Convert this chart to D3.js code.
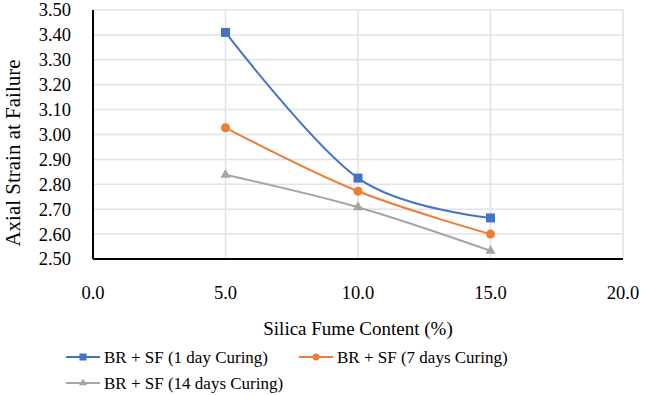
<!DOCTYPE html>
<html>
<head>
<meta charset="utf-8">
<script src="https://cdn.jsdelivr.net/npm/d3@7"></script>
</head>
<body style="margin:0">
<script>
const silicaFume = [5, 10, 15]
const oneDay = [3.41, 2.825, 2.665]
const sevenDays = [3.027, 2.772, 2.60]
const fourteenDays = [2.838, 2.708, 2.533]
const seriesNames = ['BR + SF (1 day Curing)', 'BR + SF (7 days Curing)', 'BR + SF (14 days Curing)']
const xTicks = [0, 5, 10, 15, 20]
const yTicks = [2.5, 2.6, 2.7, 2.8, 2.9, 3.0, 3.1, 3.2, 3.3, 3.4, 3.5]

const width = 645, height = 395
const margin = {left: 93, top: 10, right: 22, bottom: 136}
const font = 'Liberation Serif'

const svg = d3.select('body').append('svg')
.attr('width', width)
.attr('height', height)
.attr('font-family', font)
.attr('font-size', 18.5)

const x = d3.scaleLinear().domain([0, 20]).range([margin.left, width - margin.right])
const y = d3.scaleLinear().domain([2.5, 3.5]).range([height - margin.bottom, margin.top])

const grid = svg.append('g')
grid.selectAll('.hg').data(yTicks).join('line')
.attr('x1', margin.left).attr('x2', width - margin.right)
.attr('y1', d => y(d)).attr('y2', d => y(d))
.attr('stroke', '#dfe2e8').attr('stroke-width', 1.5)
grid.selectAll('.vg').data(xTicks).join('line')
.attr('y1', margin.top).attr('y2', height - margin.bottom)
.attr('x1', d => x(d)).attr('x2', d => x(d))
.attr('stroke', '#dfe2e8').attr('stroke-width', 1.5)

const colors = ['#4472c4', '#ed7d31', '#a5a5a5']
const allSeries = [oneDay, sevenDays, fourteenDays]

// axis lines
svg.append('line')
.attr('x1', x(0)).attr('x2', x(20)).attr('y1', y(2.5)).attr('y2', y(2.5))
.attr('stroke', '#000').attr('stroke-width', 2)
svg.append('line')
.attr('x1', x(0)).attr('x2', x(0)).attr('y1', y(3.5)).attr('y2', y(2.5))
.attr('stroke', '#000').attr('stroke-width', 2)

// tick labels
svg.selectAll('.xl').data(xTicks).join('text')
.attr('x', d => x(d)).attr('y', 299)
.attr('text-anchor', 'middle')
.attr('font-family', font)
.text(d3.format('.1f'))

svg.selectAll('.yl').data(yTicks).join('text')
.attr('x', 71).attr('y', d => y(d)).attr('dy', '0.35em')
.attr('text-anchor', 'end')
.attr('font-family', font)
.text(d3.format('.2f'))

svg.append('text')
.attr('x', (margin.left + width - margin.right) / 2)
.attr('y', 335)
.attr('text-anchor', 'middle')
.attr('font-family', font)
.attr('font-size', 19)
.text('Silica Fume Content (%)')

svg.append('text')
.attr('transform', `translate(20,153) rotate(-90)`)
.attr('text-anchor', 'middle')
.attr('font-family', font)
.attr('font-size', 21)
.text('Axial Strain at Failure')

const line = d3.line()
.curve(d3.curveCatmullRom.alpha(0))
.x((d, i) => x(silicaFume[i]))
.y(d => y(d))

const drawMarker = (g, kind, color, size) => {
  if (kind === 0) {
    g.append('rect').attr('x', -size / 2).attr('y', -size / 2).attr('width', size).attr('height', size).attr('fill', color)
  } else if (kind === 1) {
    g.append('circle').attr('r', size / 2).attr('fill', color)
  } else {
    g.append('path').attr('d', d3.symbol(d3.symbolTriangle, size * size * 0.55)()).attr('fill', color)
  }
}

allSeries.forEach((vals, k) => {
  svg.append('path')
  .datum(vals)
  .attr('d', line)
  .attr('fill', 'none')
  .attr('stroke', colors[k])
  .attr('stroke-width', 2)

  vals.forEach((v, i) => {
    const g = svg.append('g').attr('transform', `translate(${x(silicaFume[i])},${y(v)})`)
    drawMarker(g, k, colors[k], 9)
  })
})

// legend
const legendPos = [[66, 357], [299, 357], [66, 383]]
seriesNames.forEach((name, k) => {
  const [lx, ly] = legendPos[k]
  const g = svg.append('g').attr('transform', `translate(${lx},${ly})`)
  g.append('line').attr('x1', 0).attr('x2', 34).attr('stroke', colors[k]).attr('stroke-width', 2)
  const m = g.append('g').attr('transform', 'translate(17,0)')
  drawMarker(m, k, colors[k], 7)
  g.append('text').attr('x', 38).attr('dy', '0.35em')
  .attr('font-family', font).attr('font-size', 17).text(name)
})
</script>
</body>
</html>
